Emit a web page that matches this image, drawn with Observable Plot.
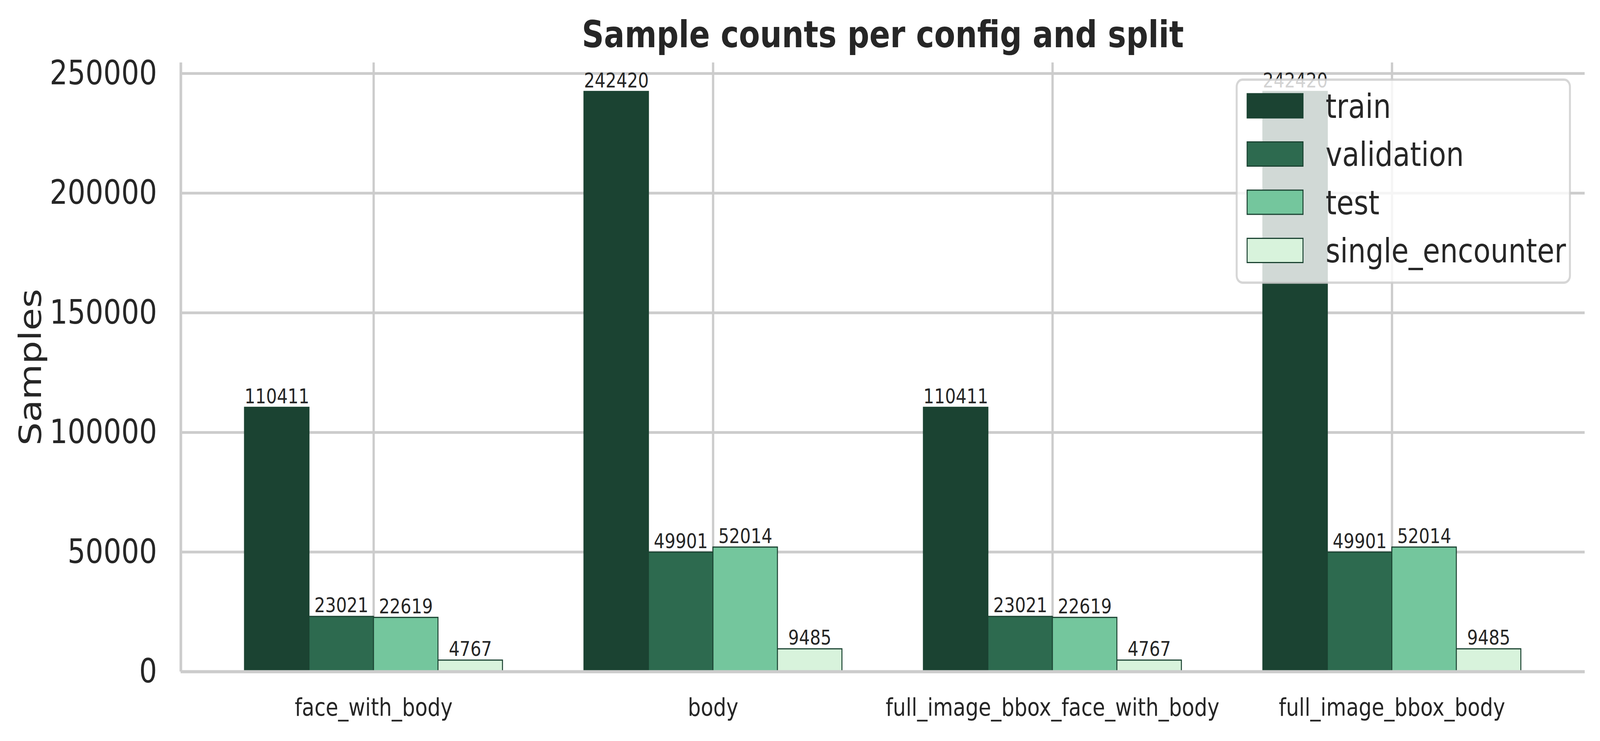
<!DOCTYPE html>
<html>
<head>
<meta charset="utf-8">
<script src="https://cdn.jsdelivr.net/npm/d3@7"></script>
<script src="https://cdn.jsdelivr.net/npm/@observablehq/plot@0.6"></script>
<style>
  html, body { margin: 0; padding: 0; background: #ffffff; overflow: hidden; }
  #chart svg { display: block; }
</style>
</head>
<body>
<div id="chart"></div>
<script>
// ---- data ----
const configs = ["face_with_body", "body", "full_image_bbox_face_with_body", "full_image_bbox_body"];
const splits = ["train", "validation", "test", "single_encounter"];
const train = [110411, 242420, 110411, 242420];
const validation = [23021, 49901, 23021, 49901];
const test = [22619, 52014, 22619, 52014];
const singleEncounter = [4767, 9485, 4767, 9485];
const yTicks = [0, 50000, 100000, 150000, 200000, 250000];
const splitColors = ["#1b4332", "#2d6a4f", "#74c69d", "#d8f3dc"];
const titleText = "Sample counts per config and split";
const yLabel = "Samples";

// ---- table ----
const series = [train, validation, test, singleEncounter];
const barWidth = 0.19;
const rows = [];
configs.forEach((c, i) => {
  splits.forEach((s, j) => {
    rows.push({config: c, split: s, value: series[j][i], ci: i, sj: j});
  });
});
const center = d => d.ci + (d.sj - (splits.length - 1) / 2) * barWidth;
const xDomain = [-0.568, 3.568];
const yMax = 242420 * 1.05;

const W = 4897, H = 1898;
const mL = 553, mR = 47, mT = 160, mB = 178;

const chart = Plot.plot({
  width: W,
  height: H,
  marginLeft: mL,
  marginRight: mR,
  marginTop: mT,
  marginBottom: mB,
  style: {fontFamily: "DejaVu Sans", color: "#262626", background: "#ffffff", overflow: "visible"},
  x: {type: "linear", domain: xDomain},
  y: {domain: [0, yMax]},
  color: {domain: splits, range: splitColors},
  marks: [
    Plot.gridY(yTicks, {stroke: "#cccccc", strokeOpacity: 1, strokeWidth: 7}),
    Plot.gridX(configs.map((c, i) => i), {stroke: "#cccccc", strokeOpacity: 1, strokeWidth: 7}),
    Plot.rect(rows, {
      x1: d => center(d) - barWidth / 2,
      x2: d => center(d) + barWidth / 2,
      y1: 0,
      y2: "value",
      fill: "split",
      stroke: "#1b4332",
      strokeWidth: 3
    }),
    Plot.ruleY([0], {stroke: "#cccccc", strokeWidth: 8}),
    Plot.ruleX([xDomain[0]], {stroke: "#cccccc", strokeWidth: 8}),
    Plot.text(rows, {
      x: center,
      y: "value",
      text: d => String(d.value),
      lineAnchor: "bottom",
      dy: -11,
      fontSize: 52,
      fill: "#262626"
    }),
    Plot.axisY({ticks: yTicks, tickSize: 0, tickPadding: 73, fontSize: 86, label: null, tickFormat: d => String(d)}),
    Plot.axisX({ticks: configs.map((c, i) => i), tickSize: 0, tickPadding: 68, fontSize: 62.6, label: null, tickFormat: i => configs[i]}),
    Plot.text([titleText], {text: d => d, frameAnchor: "top", textAnchor: "middle", lineAnchor: "bottom", dy: -40, fontSize: 94, fontWeight: "bold", fill: "#262626"}),
    Plot.text([yLabel], {text: d => d, frameAnchor: "left", textAnchor: "middle", rotate: -90, lineAnchor: "bottom", dx: 125 - mL, fontSize: 94, fill: "#262626"})
  ]
});

// ---- legend (inside the axes, upper right) ----
const svg = d3.select(chart);
const lg = svg.append("g").attr("font-family", "DejaVu Sans").attr("text-anchor", "start");
const box = {x: 3785, y: 204, w: 1020, h: 520};
lg.append("rect")
  .attr("x", box.x).attr("y", box.y).attr("width", box.w).attr("height", box.h)
  .attr("rx", 18).attr("ry", 18)
  .attr("fill", "#ffffff").attr("fill-opacity", 0.8)
  .attr("stroke", "#cccccc").attr("stroke-opacity", 0.8).attr("stroke-width", 6);
const rowStep = 123.5;
splits.forEach((s, i) => {
  const top = 240 + i * rowStep;
  lg.append("rect")
    .attr("x", 3817).attr("y", top).attr("width", 171).attr("height", 62)
    .attr("fill", splitColors[i]).attr("stroke", "#1b4332").attr("stroke-width", 3);
  lg.append("text")
    .attr("x", 4057).attr("y", top + 62)
    .attr("text-anchor", "start")
    .attr("font-size", 86).attr("fill", "#262626")
    .text(s);
});

// ---- fit the 4897x1898 drawing to the actual window ----
const vw = window.innerWidth || W;
const vh = window.innerHeight || H;
svg.attr("viewBox", `0 0 ${W} ${H}`)
   .attr("width", vw)
   .attr("height", vh)
   .attr("preserveAspectRatio", "none")
   .style("max-width", "none")
   .style("width", vw + "px")
   .style("height", vh + "px");

document.getElementById("chart").appendChild(chart);
</script>
</body>
</html>
